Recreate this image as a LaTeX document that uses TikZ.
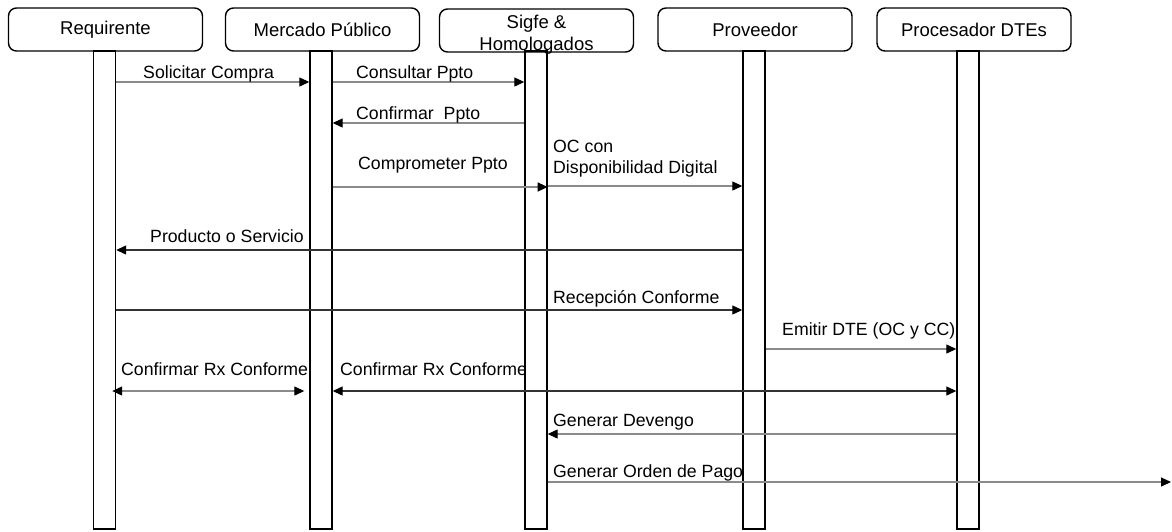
\documentclass[tikz,border=0pt]{standalone}
\usepackage{fontspec}
\setmainfont{Liberation Sans}
\usetikzlibrary{arrows.meta}
\definecolor{linegray}{HTML}{8A8A8A}
\definecolor{linedark}{HTML}{333333}
\begin{document}
\begin{tikzpicture}[x=1pt,y=-1pt,
  hdr/.style={draw, line width=1.4pt, rounded corners=8pt, minimum width=194pt, minimum height=43pt, inner sep=0pt, font=\fontsize{18.5}{22}\selectfont},
  bar/.style={draw, line width=1.4pt, minimum width=22pt, minimum height=478pt, inner sep=0pt},
  lbl/.style={anchor=base west, inner sep=0pt, font=\fontsize{17.7}{21}\selectfont},
  htxt/.style={anchor=base, inner sep=0pt, font=\fontsize{18.5}{22}\selectfont},
  msg/.style={line width=1.2pt, draw=linegray},
  msgd/.style={line width=1.2pt, draw=linedark},
  >={Triangle[length=10pt,width=9pt,color=black]}]
\useasboundingbox (0,0) rectangle (1172,531);

% headers
\node[hdr] (hR) at (105.5,29.5) {Requirente};
\node[hdr] (hM) at (322.5,29.5) {Mercado Público};
\node[hdr] (hS) at (536.5,30.5) {};
\node[htxt] (hSa) at (536.5,28) {Sigfe \&};
\node[htxt] (hSb) at (536.5,50) {Homologados};
\node[hdr] (hP) at (755,29.5) {Proveedor};
\node[hdr] (hD) at (974,29.5) {Procesador DTEs};

% lifeline bars
\node[bar] (barR) at (104.5,290) {};
\node[bar] (barM) at (321,290) {};
\node[bar] (barS) at (536,290) {};
\node[bar] (barP) at (754,290) {};
\node[bar] (barD) at (968,290) {};

\coordinate (rxL) at ([xshift=-4pt]barR.east);
\coordinate (rxR) at ([xshift=-5pt]barM.west);
\coordinate (edgeR) at (1171,482);

% messages
\draw[msg,->] (barR.east |- 0,82) -- (barM.west |- 0,82);
\node[lbl] (l1) at (143,78) {Solicitar Compra};

\draw[msg,->] (barM.east |- 0,82) -- (barS.west |- 0,82);
\node[lbl] (l2) at (356,78) {Consultar Ppto};

\draw[msg,->] (barS.west |- 0,123) -- (barM.east |- 0,123);
\node[lbl] (l3) at (356,119) {Confirmar~~Ppto};

\draw[msg,->] (barM.east |- 0,187) -- (barS.east |- 0,187);
\node[lbl] (l4) at (358,169) {Comprometer Ppto};

\draw[msg,->] (barS.east |- 0,186) -- (barP.west |- 0,186);
\node[lbl] (l5a) at (553,152) {OC con};
\node[lbl] (l5b) at (553,173) {Disponibilidad Digital};

\draw[msgd,->] (barP.west |- 0,250) -- (barR.east |- 0,250);
\node[lbl] (l6) at (150,242) {Producto o Servicio};

\draw[msgd,->] (barR.east |- 0,310) -- (barP.west |- 0,310);
\node[lbl] (l7) at (553,303) {Recepción Conforme};

\draw[msg,->] (barP.east |- 0,349) -- (barD.west |- 0,349);
\node[lbl] (l8) at (782,335) {Emitir DTE (OC y CC)};

\draw[msg,<->] (rxL |- 0,391) -- (rxR |- 0,391);
\node[lbl] (l9) at (121,375) {Confirmar Rx Conforme};

\draw[msgd,<->] (barM.east |- 0,391) -- (barD.west |- 0,391);
\node[lbl] (l10) at (340,375) {Confirmar Rx Conforme};

\draw[msg,->] (barD.west |- 0,434) -- (barS.east |- 0,434);
\node[lbl] (l11) at (553,426) {Generar Devengo};

\draw[msg,->] (barS.east |- 0,482) -- (edgeR);
\node[lbl] (l12) at (553,477) {Generar Orden de Pago};
\end{tikzpicture}
\end{document}
